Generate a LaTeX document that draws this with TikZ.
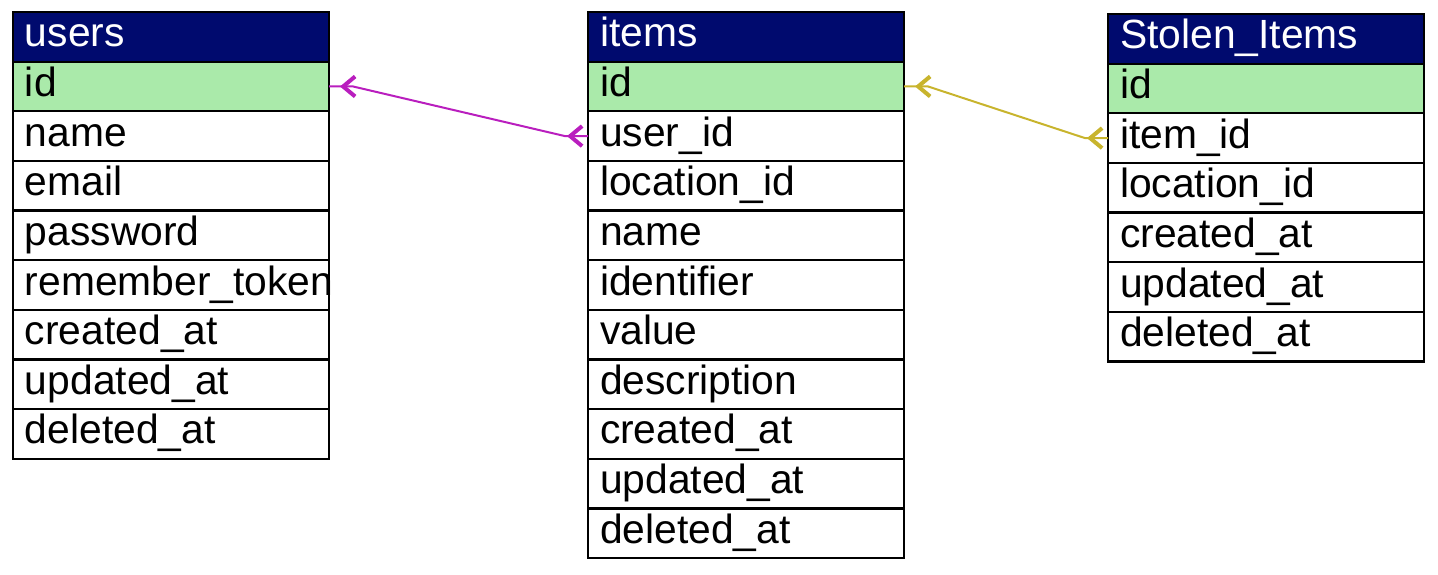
\documentclass[tikz,border=0pt]{standalone}
\usepackage{fontspec}
\setmainfont{Liberation Sans}
\usetikzlibrary{positioning,arrows.meta,decorations.markings,calc}
\definecolor{headblue}{HTML}{000A6E}
\definecolor{keygreen}{HTML}{AAEAAA}
\definecolor{fkpink}{HTML}{B91EBE}
\definecolor{fkyellow}{HTML}{C8B42D}
\hyphenpenalty=10000
\tikzset{
  field/.style={draw, line width=1.1pt, outer sep=0pt, inner xsep=6pt, inner ysep=0pt,
    text width=146pt, align=left, minimum height=24.82pt, text height=14pt, text depth=4pt,
    font=\fontsize{20.4}{24}\selectfont},
  head/.style={field, fill=headblue, text=white, anchor=north west},
  key/.style={field, fill=keygreen},
  fk/.style={line width=1pt, postaction={decorate}, decoration={markings,
    mark=at position 10.5pt with {\arrow{Straight Barb[length=6pt,width=10pt,line width=2pt]}},
    mark=at position -5.5pt with {\arrow{Straight Barb[length=6pt,width=10pt,line width=2pt]}}}}
}
\begin{document}
\begin{tikzpicture}[x=0.5pt,y=-0.5pt]
  \useasboundingbox (0,0) rectangle (1438,574);
  % users table
  \node[head] (users-0) at (13,12) {users};
  \node[key, below=0pt of users-0] (users-1) {id};
  \foreach \f [count=\i from 2, remember=\i as \j (initially 1)] in
    {name,email,password,remember\_token,created\_at,updated\_at,deleted\_at}{
    \node[field, below=0pt of users-\j] (users-\i) {\f};
  }
  % items table
  \node[head] (items-0) at (588,12) {items};
  \node[key, below=0pt of items-0] (items-1) {id};
  \foreach \f [count=\i from 2, remember=\i as \j (initially 1)] in
    {user\_id,location\_id,name,identifier,value,description,created\_at,updated\_at,deleted\_at}{
    \node[field, below=0pt of items-\j] (items-\i) {\f};
  }
  % stolen items table
  \node[head] (stolen-0) at (1108,14) {Stolen\_Items};
  \node[key, below=0pt of stolen-0] (stolen-1) {id};
  \foreach \f [count=\i from 2, remember=\i as \j (initially 1)] in
    {item\_id,location\_id,created\_at,updated\_at,deleted\_at}{
    \node[field, below=0pt of stolen-\j] (stolen-\i) {\f};
  }
  % foreign keys
  \draw[fk, fkpink] (items-2.west) -- ++(-23,0) -- ($(users-1.east)+(24,0)$) -- (users-1.east);
  \draw[fk, fkyellow] (stolen-2.west) -- ++(-23,0) -- ($(items-1.east)+(24,0)$) -- (items-1.east);
\end{tikzpicture}
\end{document}
